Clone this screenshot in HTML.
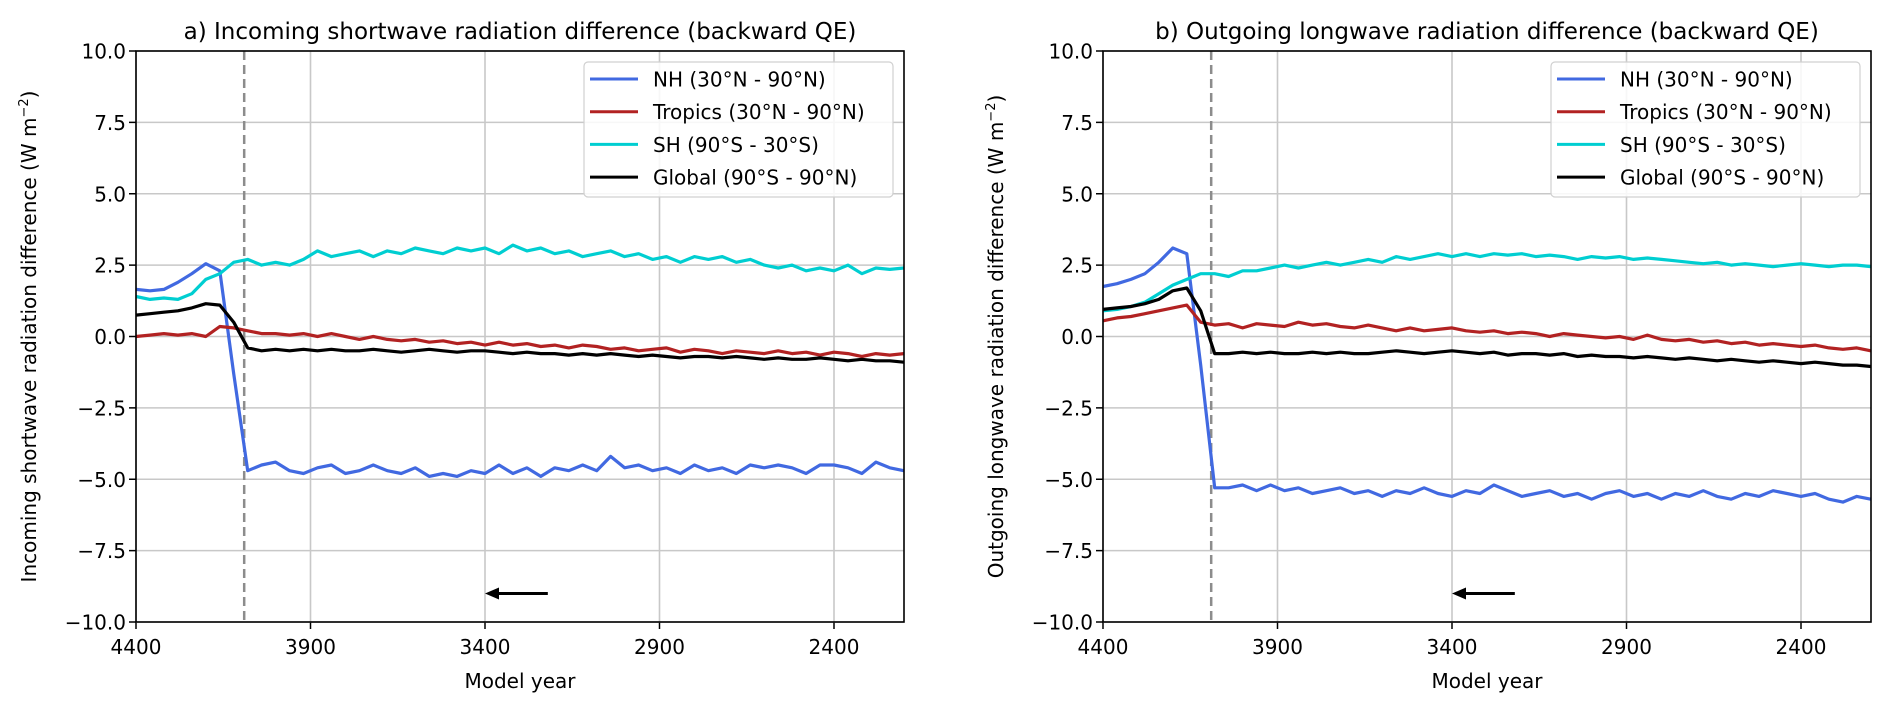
<!DOCTYPE html>
<html><head><meta charset="utf-8"><style>
html,body{margin:0;padding:0;background:#fff;}
svg{display:block;font-family:"DejaVu Sans","Liberation Sans",sans-serif;}
</style></head><body>
<svg id="chart" width="1892" height="707" viewBox="0 0 1892 707"></svg>
<script>
const years = [];
for (let y = 4400; y >= 2200; y -= 40) years.push(y);
const xTicks = [4400, 3900, 3400, 2900, 2400];
const yTicks = [10, 7.5, 5, 2.5, 0, -2.5, -5, -7.5, -10];
const seriesNames = ["NH (30°N - 90°N)", "Tropics (30°N - 90°N)", "SH (90°S - 30°S)", "Global (90°S - 90°N)"];
const aNH = [1.65,1.6,1.65,1.9,2.2,2.55,2.3,-1.3,-4.7,-4.5,-4.4,-4.7,-4.8,-4.6,-4.5,-4.8,-4.7,-4.5,-4.7,-4.8,-4.6,-4.9,-4.8,-4.9,-4.7,-4.8,-4.5,-4.8,-4.6,-4.9,-4.6,-4.7,-4.5,-4.7,-4.2,-4.6,-4.5,-4.7,-4.6,-4.8,-4.5,-4.7,-4.6,-4.8,-4.5,-4.6,-4.5,-4.6,-4.8,-4.5,-4.5,-4.6,-4.8,-4.4,-4.6,-4.7];
const aTrop = [0.0,0.05,0.1,0.05,0.1,0.0,0.35,0.3,0.2,0.1,0.1,0.05,0.1,0.0,0.1,0.0,-0.1,0.0,-0.1,-0.15,-0.1,-0.2,-0.15,-0.25,-0.2,-0.3,-0.2,-0.3,-0.25,-0.35,-0.3,-0.4,-0.3,-0.35,-0.45,-0.4,-0.5,-0.45,-0.4,-0.55,-0.45,-0.5,-0.6,-0.5,-0.55,-0.6,-0.5,-0.6,-0.55,-0.65,-0.55,-0.6,-0.7,-0.6,-0.65,-0.6];
const aSH = [1.4,1.3,1.35,1.3,1.5,2.0,2.2,2.6,2.7,2.5,2.6,2.5,2.7,3.0,2.8,2.9,3.0,2.8,3.0,2.9,3.1,3.0,2.9,3.1,3.0,3.1,2.9,3.2,3.0,3.1,2.9,3.0,2.8,2.9,3.0,2.8,2.9,2.7,2.8,2.6,2.8,2.7,2.8,2.6,2.7,2.5,2.4,2.5,2.3,2.4,2.3,2.5,2.2,2.4,2.35,2.4];
const aGlob = [0.75,0.8,0.85,0.9,1.0,1.15,1.1,0.5,-0.4,-0.5,-0.45,-0.5,-0.45,-0.5,-0.45,-0.5,-0.5,-0.45,-0.5,-0.55,-0.5,-0.45,-0.5,-0.55,-0.5,-0.5,-0.55,-0.6,-0.55,-0.6,-0.6,-0.65,-0.6,-0.65,-0.6,-0.65,-0.7,-0.65,-0.7,-0.75,-0.7,-0.7,-0.75,-0.7,-0.75,-0.8,-0.75,-0.8,-0.8,-0.75,-0.8,-0.85,-0.8,-0.85,-0.85,-0.9];
const bNH = [1.75,1.85,2.0,2.2,2.6,3.1,2.9,-1.0,-5.3,-5.3,-5.2,-5.4,-5.2,-5.4,-5.3,-5.5,-5.4,-5.3,-5.5,-5.4,-5.6,-5.4,-5.5,-5.3,-5.5,-5.6,-5.4,-5.5,-5.2,-5.4,-5.6,-5.5,-5.4,-5.6,-5.5,-5.7,-5.5,-5.4,-5.6,-5.5,-5.7,-5.5,-5.6,-5.4,-5.6,-5.7,-5.5,-5.6,-5.4,-5.5,-5.6,-5.5,-5.7,-5.8,-5.6,-5.7];
const bTrop = [0.55,0.65,0.7,0.8,0.9,1.0,1.1,0.5,0.4,0.45,0.3,0.45,0.4,0.35,0.5,0.4,0.45,0.35,0.3,0.4,0.3,0.2,0.3,0.2,0.25,0.3,0.2,0.15,0.2,0.1,0.15,0.1,0.0,0.1,0.05,0.0,-0.05,0.0,-0.1,0.05,-0.1,-0.15,-0.1,-0.2,-0.15,-0.25,-0.2,-0.3,-0.25,-0.3,-0.35,-0.3,-0.4,-0.45,-0.4,-0.5];
const bSH = [0.9,0.95,1.05,1.2,1.5,1.8,2.0,2.2,2.2,2.1,2.3,2.3,2.4,2.5,2.4,2.5,2.6,2.5,2.6,2.7,2.6,2.8,2.7,2.8,2.9,2.8,2.9,2.8,2.9,2.85,2.9,2.8,2.85,2.8,2.7,2.8,2.75,2.8,2.7,2.75,2.7,2.65,2.6,2.55,2.6,2.5,2.55,2.5,2.45,2.5,2.55,2.5,2.45,2.5,2.5,2.45];
const bGlob = [0.95,1.0,1.05,1.15,1.3,1.6,1.7,0.9,-0.6,-0.6,-0.55,-0.6,-0.55,-0.6,-0.6,-0.55,-0.6,-0.55,-0.6,-0.6,-0.55,-0.5,-0.55,-0.6,-0.55,-0.5,-0.55,-0.6,-0.55,-0.65,-0.6,-0.6,-0.65,-0.6,-0.7,-0.65,-0.7,-0.7,-0.75,-0.7,-0.75,-0.8,-0.75,-0.8,-0.85,-0.8,-0.85,-0.9,-0.85,-0.9,-0.95,-0.9,-0.95,-1.0,-1.0,-1.05];
const transitionYear = 4090;
const arrowFrom = 3220, arrowTo = 3400, arrowY = -9;

const NS = "http://www.w3.org/2000/svg";
const svg = document.getElementById("chart");
const colors = ["#4169e1", "#b22222", "#00ced1", "#000000"];
function mk(tag, attrs, parent) {
  const e = document.createElementNS(NS, tag);
  for (const k in attrs) e.setAttribute(k, attrs[k]);
  (parent || svg).appendChild(e);
  return e;
}

function panel(id, x0, title, ylabel, data) {
  const x1 = x0 + 768, yT = 51, yB = 622;
  const g = mk("g", {});
  
  
  const X = v => x0 + (4400 - v) * (698 / 2000);
  const Y = v => yB - (v + 10) * (yB - yT) / 20;
  xTicks.forEach(t => {
    const l = mk("line", {x1: X(t), x2: X(t), y1: yT, y2: yB, stroke: "#c8c8c8", "stroke-width": 1.6}, g);
    
    
    mk("line", {x1: X(t), x2: X(t), y1: yB, y2: yB + 7, stroke: "#000", "stroke-width": 1.5}, g);
    const tx = mk("text", {x: X(t), y: 654, "font-size": 20, "text-anchor": "middle", fill: "#000"}, g);
    tx.textContent = t;
    
    
  });
  yTicks.forEach(t => {
    const l = mk("line", {x1: x0, x2: x1, y1: Y(t), y2: Y(t), stroke: "#c8c8c8", "stroke-width": 1.6}, g);
    
    
    mk("line", {x1: x0 - 7, x2: x0, y1: Y(t), y2: Y(t), stroke: "#000", "stroke-width": 1.5}, g);
    const tx = mk("text", {x: x0 - 10, y: Y(t) + 7.5, "font-size": 20, "text-anchor": "end", fill: "#000"}, g);
    tx.textContent = (t < 0 ? "\u2212" + Math.abs(t).toFixed(1) : t.toFixed(1));
    
    
  });
  const d = mk("line", {x1: X(transitionYear), x2: X(transitionYear), y1: yT, y2: yB, stroke: "#8c8c8c", "stroke-width": 2.5, "stroke-dasharray": "9,5"}, g);
  
  
  const keys = ["nh", "tropics", "sh", "global"];
  data.forEach((vals, i) => {
    const pts = vals.map((v, j) => X(years[j]).toFixed(1) + "," + Y(v).toFixed(1)).join(" ");
    const p = mk("polyline", {points: pts, fill: "none", stroke: colors[i], "stroke-width": 3.2, "stroke-linejoin": "round"}, g);
    
    
  });
  const ay = Y(arrowY);
  const al = mk("line", {x1: X(arrowFrom), x2: X(arrowTo) + 12, y1: ay, y2: ay, stroke: "#000", "stroke-width": 3}, g);
  
  
  const ah = mk("polygon", {points: `${X(arrowTo)},${ay} ${X(arrowTo)+14},${ay-6} ${X(arrowTo)+14},${ay+6}`, fill: "#000"}, g);
  
  
  const fr = mk("rect", {x: x0, y: yT, width: x1 - x0, height: yB - yT, fill: "none", stroke: "#000", "stroke-width": 1.6}, g);
  
  
  const lg = mk("g", {}, g);
  
  
  mk("rect", {x: x0 + 448, y: 62, width: 309, height: 135, rx: 4, fill: "#fff", "fill-opacity": 0.85, stroke: "#d0d0d0", "stroke-width": 1.2}, lg);
  seriesNames.forEach((n, i) => {
    const ry = 79 + i * 32.7;
    const e = mk("g", {}, lg);
    
    
    mk("line", {x1: x0 + 454, x2: x0 + 502, y1: ry, y2: ry, stroke: colors[i], "stroke-width": 3}, e);
    const t = mk("text", {x: x0 + 517, y: ry + 7.5, "font-size": 20, fill: "#000"}, e);
    t.textContent = n;
  });
  const tt = mk("text", {x: (x0 + x1) / 2, y: 39, "font-size": 23, "text-anchor": "middle", fill: "#000"}, g);
  tt.textContent = title;
  
  
  const xl = mk("text", {x: (x0 + x1) / 2, y: 688, "font-size": 20, "text-anchor": "middle", fill: "#000"}, g);
  xl.textContent = "Model year";
  
  
  const yl = mk("text", {x: 0, y: 0, "font-size": 20, "text-anchor": "middle", fill: "#000", transform: `translate(${x0 - 100},${(yT + yB) / 2}) rotate(-90)`}, g);
  yl.innerHTML = ylabel + " (W m<tspan dy='-8' font-size='13'>\u22122</tspan><tspan dy='8'>)</tspan>";
  
  
}

panel("a", 136, "a) Incoming shortwave radiation difference (backward QE)", "Incoming shortwave radiation difference", [aNH, aTrop, aSH, aGlob]);
panel("b", 1103, "b) Outgoing longwave radiation difference (backward QE)", "Outgoing longwave radiation difference", [bNH, bTrop, bSH, bGlob]);
</script>
</body></html>
